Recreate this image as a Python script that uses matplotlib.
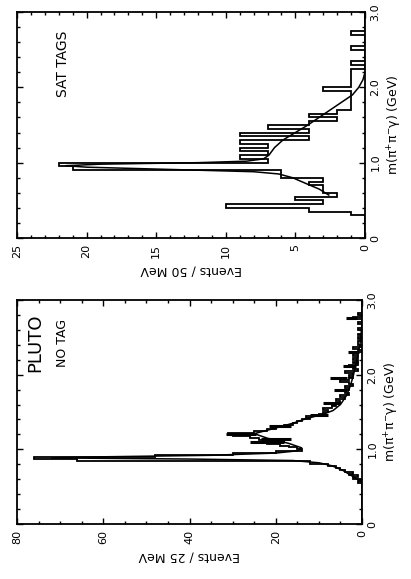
import numpy as np
import matplotlib
matplotlib.use("Agg")
import matplotlib.pyplot as plt
from matplotlib.ticker import MultipleLocator, FixedLocator

# ---------------- data ----------------
# SAT TAGS panel: 50 MeV bins from 0 to 3 GeV
sat_bin_width = 0.05
sat_counts = [0, 0, 0, 0, 0, 0, 1, 4, 10, 3,
              5, 2, 3, 3, 4, 3, 6, 6, 21, 22,
              7, 9, 7, 9, 7, 9, 4, 9, 4, 7,
              4, 2, 4, 2, 1, 1, 1, 1, 1, 3,
              1, 1, 1, 1, 1, 0, 1, 0, 0, 0,
              1, 0, 0, 0, 1, 0, 0, 0, 0, 0]
sat_fit_mass = [0.57, 0.65, 0.72, 0.80, 0.85, 0.88, 0.91, 0.94, 0.96, 0.98,
                1.00, 1.02, 1.05, 1.10, 1.20, 1.30, 1.40, 1.50, 1.60, 1.70,
                1.80, 1.90, 2.00, 2.10, 2.20]
sat_fit_val = [2.6, 3.3, 4.2, 5.2, 6.2, 8.0, 14.0, 20.0, 21.5, 19.0,
               12.0, 8.5, 7.3, 6.9, 6.5, 5.9, 5.0, 4.1, 3.3, 2.5,
               1.7, 0.9, 0.45, 0.15, 0.0]

# NO TAG panel: 25 MeV bins from 0 to 3 GeV
notag_bin_width = 0.025
notag_counts = [0] * 22 + [
    1, 0, 2, 1, 3, 2, 4, 5, 6, 8,
    12, 12, 66, 76, 48, 30, 20, 14, 15, 17,
    19, 22, 18, 24, 26, 30, 31, 25, 22, 20,
    18, 16, 15, 14, 12, 13, 10, 9, 8, 9,
    7, 6, 7, 5, 6, 4, 5, 3, 4, 5,
    3, 4, 2, 3, 5, 3, 2, 3, 2, 4,
    1, 2, 3, 1, 2, 1, 2, 1, 2, 1,
    0, 1, 2, 0, 1, 1, 0, 1, 0, 1,
    0, 0, 1, 0, 0, 1, 0, 0, 2, 0,
    1] + [0] * 7
notag_err_mass = [1.10, 1.14, 1.21, 1.31, 1.46, 1.62, 1.79, 1.96, 2.11, 2.31, 2.76]
notag_err_val = [22, 20, 28, 19, 10, 7, 5, 5.5, 3, 2, 2.5]
notag_err_size = [4, 3.5, 3.5, 2.5, 2, 2, 1.5, 2, 1.5, 1.2, 1.3]
notag_fit_mass = [0.56, 0.65, 0.72, 0.78, 0.82, 0.85, 0.87, 0.885, 0.90, 0.92,
                  0.95, 0.98, 1.02, 1.08, 1.15, 1.21, 1.27, 1.35, 1.41, 1.47,
                  1.52, 1.60, 1.72, 1.85, 1.99, 2.20, 2.39, 2.55, 2.70]
notag_fit_val = [0, 2.5, 4.5, 7, 10, 16, 40, 72, 60, 35,
                 20, 15, 14, 17, 22, 25, 21, 16, 13, 9,
                 6.7, 5, 3.6, 2.7, 2.0, 1.2, 0.5, 0.2, 0]

mass_ticks = [0, 1, 2, 3]
mass_ticklabels = ["0", "1.0", "2.0", "3.0"]
sat_ticks = [0, 5, 10, 15, 20, 25]
notag_ticks = [0, 20, 40, 60, 80]

mass_label = "m(\u03c0$^{+}$\u03c0$^{-}$\u03b3) (GeV)"

# ---------------- figure ----------------
W, H = 411, 579
fig = plt.figure(figsize=(W / 100, H / 100), dpi=100)
plt.rcParams['font.family'] = ['DejaVu Sans']


def frac(x0, y0, x1, y1):
    return [x0 / W, (H - y1) / H, (x1 - x0) / W, (y1 - y0) / H]


ax1 = fig.add_axes(frac(17, 12, 365, 238))
ax2 = fig.add_axes(frac(17, 300, 362, 524))

lw = 1.3
# SAT TAGS
edges1 = np.arange(len(sat_counts) + 1) * sat_bin_width
ax1.stairs(sat_counts, edges1, orientation='horizontal', color='black', lw=lw)
ax1.plot(sat_fit_val, sat_fit_mass, color='black', lw=1.1)
ax1.set_xlim(25, 0)
ax1.set_ylim(0, 3)
ax1.xaxis.set_major_locator(FixedLocator(sat_ticks))
ax1.xaxis.set_minor_locator(MultipleLocator(1))
ax1.set_xlabel("Events / 50 MeV", rotation=180, fontsize=9, labelpad=4)
ax1.text(0.132, 0.77, "SAT TAGS", transform=ax1.transAxes, rotation=90,
         fontsize=10, ha='center', va='center')

# NO TAG
edges2 = np.arange(len(notag_counts) + 1) * notag_bin_width
ax2.stairs(notag_counts, edges2, orientation='horizontal', color='black', lw=lw)
ax2.errorbar(notag_err_val, notag_err_mass, xerr=notag_err_size, fmt='none',
             ecolor='black', elinewidth=2.2, capsize=0)
ax2.plot(notag_fit_val, notag_fit_mass, color='black', lw=1.1)
ax2.set_xlim(80, 0)
ax2.set_ylim(0, 3)
ax2.xaxis.set_major_locator(FixedLocator(notag_ticks))
ax2.xaxis.set_minor_locator(MultipleLocator(5))
ax2.set_xlabel("Events / 25 MeV", rotation=180, fontsize=9, labelpad=4)
ax2.text(0.052, 0.81, "PLUTO", transform=ax2.transAxes, rotation=90,
         fontsize=13, ha='center', va='center')
ax2.text(0.133, 0.81, "NO TAG", transform=ax2.transAxes, rotation=90,
         fontsize=9, ha='center', va='center')

for ax in (ax1, ax2):
    ax.yaxis.set_major_locator(FixedLocator(mass_ticks))
    ax.yaxis.set_minor_locator(MultipleLocator(0.2))
    ax.set_yticklabels(mass_ticklabels)
    ax.yaxis.tick_right()
    ax.yaxis.set_label_position('right')
    ax.set_ylabel(mass_label, rotation=90, fontsize=9, labelpad=4)
    ax.tick_params(which='both', direction='in', top=True, bottom=True,
                   left=True, right=True, width=1)
    ax.tick_params(which='major', length=4)
    ax.tick_params(which='minor', length=2.5)
    ax.tick_params(axis='x', labelrotation=90, labelsize=8, pad=4)
    ax.tick_params(axis='y', labelrotation=90, labelsize=8, pad=4)
    for lab in ax.get_yticklabels():
        lab.set_va('center')
    for s in ax.spines.values():
        s.set_linewidth(1.3)

fig.savefig("out.png", dpi=100)
